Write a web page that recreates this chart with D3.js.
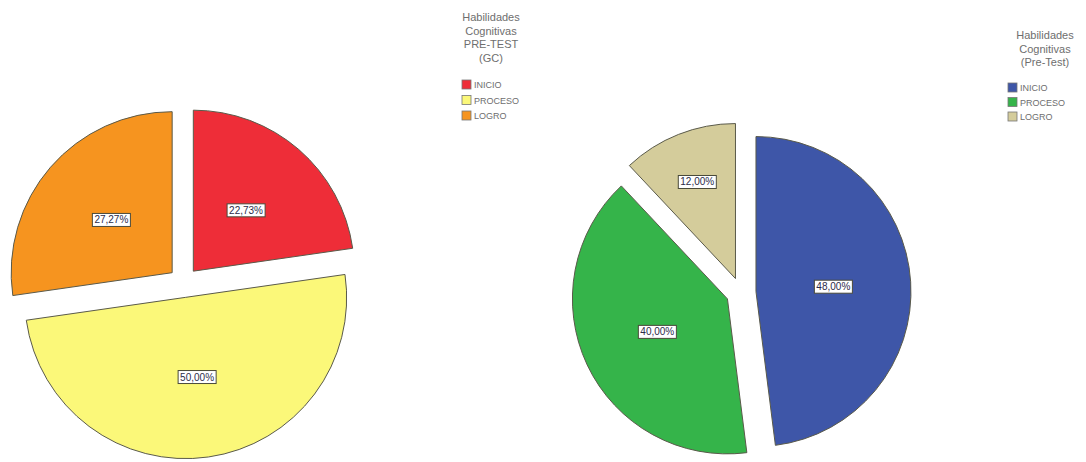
<!DOCTYPE html>
<html>
<head>
<meta charset="utf-8">
<script src="https://cdn.jsdelivr.net/npm/d3@7"></script>
<style>
  html, body { margin: 0; padding: 0; background: #fff; }
  svg { display: block; }
</style>
</head>
<body>
<svg id="chart" width="1086" height="462"></svg>
<script>
// ---- Data ----
const categories = ["INICIO", "PROCESO", "LOGRO"];
const valuesPreGC = [22.73, 50.00, 27.27];
const valuesPreTest = [48.00, 40.00, 12.00];
const colorsPreGC = ["#ee2d38", "#fbf879", "#f6941f"];
const colorsPreTest = ["#3e56a8", "#35b44a", "#d4cc9b"];
const titlePreGC = ["Habilidades", "Cognitivas", "PRE-TEST", "(GC)"];
const titlePreTest = ["Habilidades", "Cognitivas", "(Pre-Test)"];

const svg = d3.select("#chart");
const fmt = v => v.toFixed(2).replace(".", ",") + "%";

function drawPie(cfg) {
  const g = svg.append("g").attr("transform", `translate(${cfg.cx},${cfg.cy})`);
  const pie = d3.pie().sort(null).value(d => d.v);
  const arcs = pie(cfg.values.map((v, i) => ({ v, c: cfg.colors[i], k: cfg.categories[i] })));
  const arc = d3.arc().innerRadius(0).outerRadius(cfg.r);
  arcs.forEach(a => {
    const mid = (a.startAngle + a.endAngle) / 2;
    const dx = Math.sin(mid) * cfg.explode, dy = -Math.cos(mid) * cfg.explode;
    const sg = g.append("g").attr("transform", `translate(${dx},${dy})`);
    sg.append("path").attr("d", arc(a))
      .attr("fill", a.data.c)
      .attr("stroke", "#5a5a4a").attr("stroke-width", 1).attr("stroke-linejoin", "round");
    const span = a.endAngle - a.startAngle;
    const lr = cfg.r * (span < 1.0 ? 0.67 : 0.5);
    const lx = Math.sin(mid) * lr, ly = -Math.cos(mid) * lr;
    const lg = sg.append("g").attr("transform", `translate(${lx},${ly})`);
    const t = lg.append("text").text(fmt(a.data.v))
      .attr("text-anchor", "middle").attr("dy", "0.35em")
      .attr("font-family", "Liberation Sans, Arial, sans-serif")
      .attr("font-size", 10).attr("fill", "#2c2c4a");
    const bb = t.node().getBBox();
    lg.insert("rect", "text")
      .attr("x", bb.x - 2).attr("y", bb.y - 1)
      .attr("width", bb.width + 4).attr("height", bb.height + 2)
      .attr("fill", "#fff").attr("stroke", "#4a4a3a").attr("stroke-width", 1);
  });
}

function drawLegend(cfg) {
  const g = svg.append("g");
  cfg.title.forEach((line, i) => {
    g.append("text").text(line)
      .attr("x", cfg.tx).attr("y", cfg.ty + i * cfg.lh)
      .attr("text-anchor", "middle")
      .attr("font-family", "Liberation Sans, Arial, sans-serif")
      .attr("font-size", 11).attr("fill", "#6e6e6e");
  });
  cfg.categories.forEach((c, i) => {
    const y = cfg.sy + i * cfg.step;
    g.append("rect").attr("x", cfg.sx).attr("y", y).attr("width", 9).attr("height", 9)
      .attr("fill", cfg.colors[i]).attr("stroke", "#777").attr("stroke-width", 0.8);
    g.append("text").text(c)
      .attr("x", cfg.sx + 12).attr("y", y + 8)
      .attr("font-family", "Liberation Sans, Arial, sans-serif")
      .attr("font-size", 9).attr("fill", "#6e6e6e");
  });
}

drawPie({ cx: 183.5, cy: 282.5, r: 161, explode: 15, values: valuesPreGC, colors: colorsPreGC, categories });
drawPie({ cx: 741, cy: 292.5, r: 155, explode: 15, values: valuesPreTest, colors: colorsPreTest, categories });

drawLegend({ title: titlePreGC, tx: 491, ty: 21, lh: 13.5, sx: 462, sy: 80, step: 15.5, colors: colorsPreGC, categories });
drawLegend({ title: titlePreTest, tx: 1045, ty: 39, lh: 13.5, sx: 1008, sy: 83, step: 14.5, colors: colorsPreTest, categories });
</script>
</body>
</html>
